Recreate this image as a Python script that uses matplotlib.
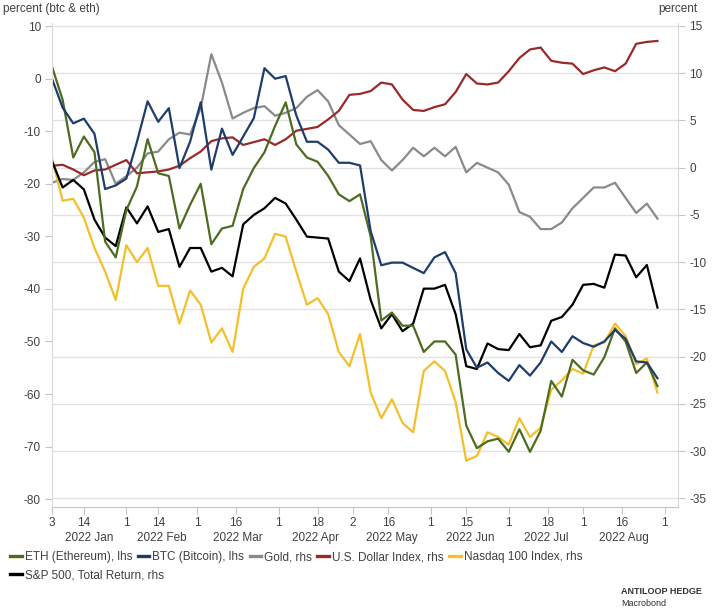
import numpy as np
import pandas as pd
import matplotlib
matplotlib.use("Agg")
import matplotlib.pyplot as plt

plt.rcParams['font.family'] = ['Liberation Sans', 'DejaVu Sans']
plt.rcParams['axes.unicode_minus'] = False

# readings taken every third business day from 2022-01-03
bdays = pd.bdate_range('2022-01-03', '2022-09-30')
step = 3

eth = [2.3, -4, -15, -11, -14, -31, -34, -25, -20.5, -11.5,
       -18, -18.5, -28.5, -24, -20, -31.5, -28.5, -28, -21, -17,
       -14, -9, -4.5, -12.5, -15, -15.8, -18.5, -22, -23.3, -22,
       -30, -46, -44.5, -47, -47, -52, -50, -50, -52.5, -66,
       -70.3, -69, -68.5, -71, -66.7, -71, -67, -57.5, -60.5, -53.5,
       -55.5, -56.3, -53, -47.5, -50, -56, -54, -58.5]
btc = [0, -5.5, -8.5, -7.6, -10.5, -21, -20.3, -19, -12, -4.3,
       -8.2, -5.6, -17, -12, -4.5, -17.3, -9.5, -14.5, -11, -7.5,
       2.0, 0, 0.5, -7, -12, -12, -13.5, -16, -16, -16.5,
       -29, -35.5, -35, -35, -36, -37, -34, -33, -37, -51.5,
       -55, -54, -56, -57.5, -54.5, -56.5, -54, -50, -52, -49,
       -50.3, -51, -50, -47.8, -49.5, -53.8, -54, -57]
gold = [-1.6, -1.2, -1.3, -0.5, 0.6, 0.9, -1.7, -0.9, 0, 1.5,
        1.7, 3, 3.7, 3.5, 6.3, 12.0, 9.0, 5.2, 5.8, 6.3,
        6.5, 5.5, 5.8, 6.3, 7.5, 8.2, 7, 4.5, 3.5, 2.5,
        2.8, 0.8, -0.3, 0.8, 2.1, 1.2, 2.1, 1.2, 2.2, -0.5,
        0.5, 0, -0.5, -1.8, -4.7, -5.2, -6.5, -6.5, -5.8, -4.3,
        -3.2, -2.1, -2.1, -1.6, -3.2, -4.8, -3.8, -5.4]
usd = [0.2, 0.3, -0.2, -0.8, -0.3, -0.2, 0.3, 0.8, -0.6, -0.5,
       -0.4, -0.2, 0.2, 1.0, 1.7, 2.8, 3.1, 3.2, 2.4, 2.7,
       3.0, 2.4, 3.0, 3.9, 4.1, 4.3, 5.1, 6.0, 7.7, 7.8,
       8.1, 9.0, 8.8, 7.2, 6.1, 6.0, 6.4, 6.7, 8.0, 9.9,
       8.9, 8.8, 9.0, 10.2, 11.6, 12.5, 12.7, 11.3, 11.1, 11.0,
       9.9, 10.3, 10.6, 10.2, 11.0, 13.1, 13.3, 13.4]
nasdaq = [1, -3.5, -3.3, -5.3, -8.5, -11, -14, -8.2, -10, -8.5,
          -12.5, -12.5, -16.5, -13, -14.5, -18.5, -17, -19.5, -12.8, -10.5,
          -9.6, -7, -7.3, -11, -14.5, -13.8, -15.5, -19.5, -21, -17.6,
          -23.8, -26.5, -24.5, -27, -28, -21.5, -20.5, -21.5, -24.8, -31,
          -30.5, -28, -28.5, -29.3, -26.5, -28.5, -27.5, -23.5, -22.5, -21.3,
          -21.8, -18.8, -18.5, -16.5, -17.8, -20.8, -20.2, -23.8]
sp500 = [0.7, -2.1, -1.3, -2.3, -5.5, -7.4, -8.3, -4.2, -5.9, -4.1,
         -6.8, -6.5, -10.5, -8.5, -8.5, -11, -10.6, -11.5, -6, -5,
         -4.3, -3.2, -3.8, -5.5, -7.3, -7.4, -7.5, -11, -12, -9.6,
         -14, -17, -15.5, -17.3, -16.5, -12.8, -12.8, -12.4, -15.5, -21,
         -21.3, -18.6, -19.2, -19.3, -17.6, -19.0, -18.8, -16.2, -15.8, -14.5,
         -12.4, -12.3, -12.7, -9.2, -9.3, -11.6, -10.3, -14.8]

tick_dates = ['2022-01-03', '2022-01-14', '2022-02-01', '2022-02-14', '2022-03-01',
              '2022-03-16', '2022-04-01', '2022-04-18', '2022-05-02', '2022-05-16',
              '2022-06-01', '2022-06-15', '2022-07-01', '2022-07-18', '2022-08-01',
              '2022-08-16', '2022-09-01']
month_starts = ['2022-01-03', '2022-02-01', '2022-03-01', '2022-04-01', '2022-05-02',
                '2022-06-01', '2022-07-01', '2022-08-01', '2022-09-01']
month_names = ['2022 Jan', '2022 Feb', '2022 Mar', '2022 Apr', '2022 May',
               '2022 Jun', '2022 Jul', '2022 Aug']

c_eth, c_btc, c_gold = '#4e6b22', '#1e3d6b', '#8a8a8a'
c_usd, c_ndx, c_sp = '#9a2a2a', '#f3bf2b', '#000000'
txt = '#404040'
lw = 1.6

pos = np.arange(len(eth)) * step

fig = plt.figure(figsize=(7.15, 6.11), dpi=100)
ax = fig.add_axes([52/715, 1-507/611, (678-52)/715, (507-23)/611])
axl = ax.twinx()

# right-hand scale (drawn first, carries the grid)
ax.plot(pos, gold, color=c_gold, lw=lw)
ax.plot(pos, usd, color=c_usd, lw=lw)
ax.plot(pos, nasdaq, color=c_ndx, lw=lw)
ax.plot(pos, sp500, color=c_sp, lw=lw)
ax.set_ylim(-35.9, 15.3)
ax.set_yticks(range(-35, 16, 5))
ax.yaxis.tick_right()
ax.grid(axis='y', color='#e2e2e2', lw=1)
ax.set_axisbelow(True)

# left-hand scale
axl.plot(pos, eth, color=c_eth, lw=lw)
axl.plot(pos, btc, color=c_btc, lw=lw)
axl.set_ylim(-81.5, 10.6)
axl.set_yticks(range(-80, 11, 10))
axl.yaxis.tick_left()

ax.set_xlim(0, 176.8)
tpos = bdays.get_indexer(pd.to_datetime(tick_dates))
ax.set_xticks(tpos)
ax.set_xticklabels([str(pd.Timestamp(d).day) for d in tick_dates])
mpos = bdays.get_indexer(pd.to_datetime(month_starts))
ax.set_xticks((mpos[:-1] + mpos[1:]) / 2, minor=True)
ax.set_xticklabels(month_names, minor=True)

for a in (ax, axl):
    for s in a.spines.values():
        s.set_visible(False)
axl.spines['left'].set_visible(True)
axl.spines['left'].set_color('#d9d9d9')
ax.spines['right'].set_visible(True)
ax.spines['right'].set_color('#d9d9d9')
ax.spines['bottom'].set_visible(True)
ax.spines['bottom'].set_color('#c4c4c4')

axl.tick_params(axis='y', length=5, color='#c4c4c4', labelsize=8.5, labelcolor=txt, pad=3)
ax.tick_params(axis='y', length=5, color='#c4c4c4', labelsize=8.5, labelcolor=txt, pad=3)
ax.tick_params(axis='x', which='major', length=5, color='#c4c4c4', labelsize=8.5, labelcolor=txt, pad=2)
ax.tick_params(axis='x', which='minor', length=0, labelsize=8.5, labelcolor=txt, pad=18)

fig.text(3/715, 1-9/611, 'percent (btc & eth)', fontsize=8.5, color=txt, va='center', ha='left')
fig.text(697/715, 1-9/611, 'percent', fontsize=8.5, color=txt, va='center', ha='right')

h = lambda c: plt.Line2D([], [], color=c, lw=2.4)
fig.legend([h(c_eth), h(c_btc), h(c_gold), h(c_usd), h(c_ndx)],
           ['ETH (Ethereum), lhs', 'BTC (Bitcoin), lhs', 'Gold, rhs',
            'U.S. Dollar Index, rhs', 'Nasdaq 100 Index, rhs'],
           loc='center left', bbox_to_anchor=(10/715, 1-557/611), ncol=5,
           frameon=False, fontsize=8.5, handlelength=1.0, handletextpad=0.25,
           columnspacing=0.45, borderpad=0, borderaxespad=0, labelcolor=txt)
fig.legend([h(c_sp)], ['S&P 500, Total Return, rhs'],
           loc='center left', bbox_to_anchor=(10/715, 1-575/611),
           frameon=False, fontsize=8.5, handlelength=1.0, handletextpad=0.25,
           borderpad=0, borderaxespad=0, labelcolor=txt)

fig.text(621/715, 1-591/611, 'ANTILOOP HEDGE', fontsize=6.5, color='#333333',
         va='center', weight='semibold')
fig.text(621/715, 1-604/611, 'Macrobond', fontsize=6.5, color='#333333', va='center')

fig.savefig('out.png', dpi=100)
